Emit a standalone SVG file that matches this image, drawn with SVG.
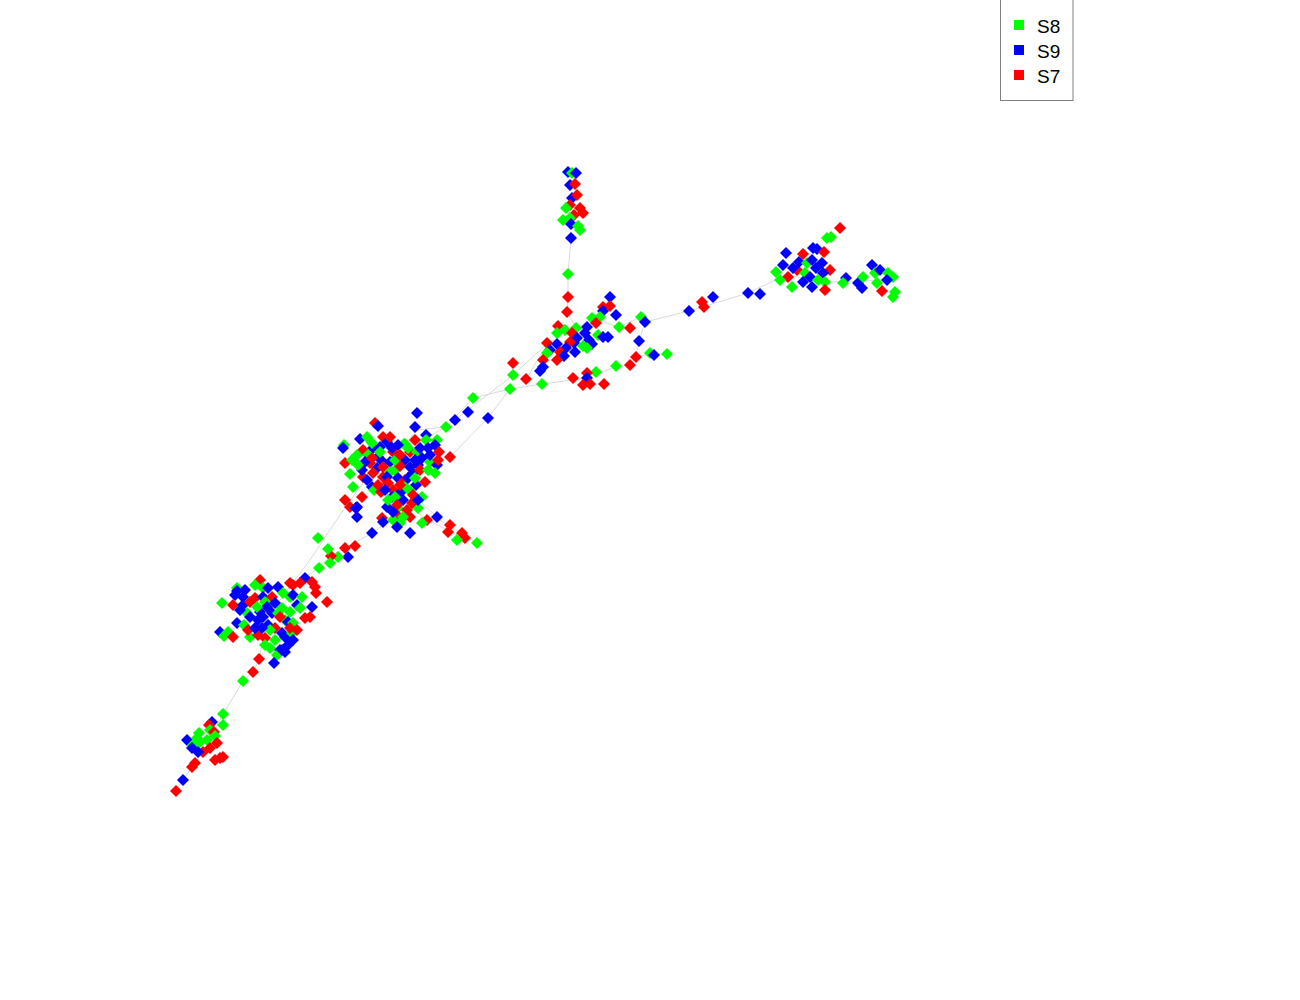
<svg xmlns="http://www.w3.org/2000/svg" xmlns:xlink="http://www.w3.org/1999/xlink" width="1300" height="1000" viewBox="0 0 1300 1000">
<style>
.g{fill:#00ff00}.b{fill:#0000ff}.r{fill:#ff0000}
.e{fill:none;stroke:#d9d9d9;stroke-width:1}
.lt{font-family:"Liberation Sans",Arial,sans-serif;font-size:19px;fill:#000}
</style>
<defs><path id="d" d="M0,-6L6,0L0,6L-6,0Z"/></defs>
<rect width="1300" height="1000" fill="#fff"/>
<g id="edges">
<polyline class="e" points="176,790 183,780 192,767 203,752 210,740 223,714 243,681 253,672 259,659 265,630"/>
<polyline class="e" points="265,620 290,597 305,578 318,568 331,556 345,548 372,533 397,515"/>
<polyline class="e" points="228,632 280,600 310,560 340,515 365,480"/>
<polyline class="e" points="383,470 417,430 446,427 473,398 510,389"/>
<polyline class="e" points="450,457 488,418 510,389"/>
<polyline class="e" points="395,460 455,420 513,375 547,344"/>
<polyline class="e" points="510,389 542,384 587,378 615,367 630,365 636,357 639,341 645,322 689,311 748,293 786,275"/>
<polyline class="e" points="527,378 547,344 575,330 603,311 610,297"/>
<polyline class="e" points="568,297 567,312 576,328"/>
<polyline class="e" points="568,297 568,274 571,238"/>
<polyline class="e" points="786,275 830,282 893,280"/>
<polyline class="e" points="636,357 650,354 667,354"/>
<polyline class="e" points="592,318 619,327 641,317"/>
<polyline class="e" points="405,487 440,520 478,544"/>
<polyline class="e" points="400,500 428,520 463,538"/>
</g>
<g id="nodes">
<g id="n1"><use href="#d" x="568" y="172" class="b"/></g>
<g id="n2"><use href="#d" x="572" y="173" class="g"/></g>
<g id="n3"><use href="#d" x="576" y="173" class="b"/></g>
<g id="n4"><use href="#d" x="570" y="185" class="b"/></g>
<g id="n5"><use href="#d" x="575" y="184" class="r"/></g>
<g id="n6"><use href="#d" x="572" y="198" class="b"/></g>
<g id="n7"><use href="#d" x="577" y="195" class="r"/></g>
<g id="n8"><use href="#d" x="570" y="205" class="r"/></g>
<g id="n9"><use href="#d" x="566" y="208" class="g"/></g>
<g id="n10"><use href="#d" x="580" y="208" class="r"/></g>
<g id="n11"><use href="#d" x="583" y="213" class="r"/></g>
<g id="n12"><use href="#d" x="574" y="215" class="r"/></g>
<g id="n13"><use href="#d" x="570" y="218" class="g"/></g>
<g id="n14"><use href="#d" x="563" y="220" class="g"/></g>
<g id="n15"><use href="#d" x="571" y="224" class="b"/></g>
<g id="n16"><use href="#d" x="578" y="226" class="g"/></g>
<g id="n17"><use href="#d" x="580" y="230" class="g"/></g>
<g id="n18"><use href="#d" x="571" y="238" class="b"/></g>
<g id="n19"><use href="#d" x="568" y="274" class="g"/></g>
<g id="n20"><use href="#d" x="568" y="297" class="r"/></g>
<g id="n21"><use href="#d" x="840" y="228" class="r"/></g>
<g id="n22"><use href="#d" x="827" y="238" class="g"/></g>
<g id="n23"><use href="#d" x="831" y="237" class="g"/></g>
<g id="n24"><use href="#d" x="786" y="253" class="b"/></g>
<g id="n25"><use href="#d" x="803" y="254" class="r"/></g>
<g id="n26"><use href="#d" x="813" y="248" class="b"/></g>
<g id="n27"><use href="#d" x="817" y="249" class="b"/></g>
<g id="n28"><use href="#d" x="824" y="252" class="r"/></g>
<g id="n29"><use href="#d" x="788" y="277" class="r"/></g>
<g id="n30"><use href="#d" x="783" y="265" class="b"/></g>
<g id="n31"><use href="#d" x="776" y="272" class="g"/></g>
<g id="n32"><use href="#d" x="780" y="280" class="g"/></g>
<g id="n33"><use href="#d" x="797" y="270" class="r"/></g>
<g id="n34"><use href="#d" x="799" y="262" class="b"/></g>
<g id="n35"><use href="#d" x="793" y="268" class="b"/></g>
<g id="n36"><use href="#d" x="807" y="263" class="g"/></g>
<g id="n37"><use href="#d" x="812" y="260" class="b"/></g>
<g id="n38"><use href="#d" x="816" y="268" class="b"/></g>
<g id="n39"><use href="#d" x="822" y="263" class="b"/></g>
<g id="n40"><use href="#d" x="830" y="270" class="r"/></g>
<g id="n41"><use href="#d" x="805" y="273" class="g"/></g>
<g id="n42"><use href="#d" x="810" y="277" class="b"/></g>
<g id="n43"><use href="#d" x="803" y="282" class="b"/></g>
<g id="n44"><use href="#d" x="792" y="287" class="g"/></g>
<g id="n45"><use href="#d" x="823" y="273" class="b"/></g>
<g id="n46"><use href="#d" x="818" y="280" class="g"/></g>
<g id="n47"><use href="#d" x="825" y="282" class="g"/></g>
<g id="n48"><use href="#d" x="825" y="290" class="r"/></g>
<g id="n49"><use href="#d" x="812" y="287" class="b"/></g>
<g id="n50"><use href="#d" x="846" y="278" class="b"/></g>
<g id="n51"><use href="#d" x="843" y="283" class="g"/></g>
<g id="n52"><use href="#d" x="858" y="283" class="b"/></g>
<g id="n53"><use href="#d" x="862" y="288" class="b"/></g>
<g id="n54"><use href="#d" x="872" y="265" class="b"/></g>
<g id="n55"><use href="#d" x="863" y="277" class="g"/></g>
<g id="n56"><use href="#d" x="875" y="273" class="g"/></g>
<g id="n57"><use href="#d" x="880" y="270" class="b"/></g>
<g id="n58"><use href="#d" x="888" y="273" class="g"/></g>
<g id="n59"><use href="#d" x="893" y="277" class="g"/></g>
<g id="n60"><use href="#d" x="877" y="283" class="g"/></g>
<g id="n61"><use href="#d" x="887" y="280" class="b"/></g>
<g id="n62"><use href="#d" x="882" y="291" class="r"/></g>
<g id="n63"><use href="#d" x="895" y="292" class="g"/></g>
<g id="n64"><use href="#d" x="893" y="297" class="g"/></g>
<g id="n65"><use href="#d" x="760" y="294" class="b"/></g>
<g id="n66"><use href="#d" x="748" y="293" class="b"/></g>
<g id="n67"><use href="#d" x="713" y="297" class="b"/></g>
<g id="n68"><use href="#d" x="702" y="302" class="r"/></g>
<g id="n69"><use href="#d" x="704" y="307" class="r"/></g>
<g id="n70"><use href="#d" x="689" y="311" class="b"/></g>
<g id="n71"><use href="#d" x="610" y="297" class="b"/></g>
<g id="n72"><use href="#d" x="603" y="307" class="r"/></g>
<g id="n73"><use href="#d" x="610" y="306" class="r"/></g>
<g id="n74"><use href="#d" x="567" y="312" class="r"/></g>
<g id="n75"><use href="#d" x="603" y="311" class="b"/></g>
<g id="n76"><use href="#d" x="616" y="315" class="b"/></g>
<g id="n77"><use href="#d" x="592" y="318" class="g"/></g>
<g id="n78"><use href="#d" x="600" y="317" class="g"/></g>
<g id="n79"><use href="#d" x="596" y="323" class="r"/></g>
<g id="n80"><use href="#d" x="619" y="327" class="g"/></g>
<g id="n81"><use href="#d" x="630" y="328" class="r"/></g>
<g id="n82"><use href="#d" x="641" y="317" class="g"/></g>
<g id="n83"><use href="#d" x="645" y="322" class="b"/></g>
<g id="n84"><use href="#d" x="558" y="326" class="r"/></g>
<g id="n85"><use href="#d" x="565" y="330" class="g"/></g>
<g id="n86"><use href="#d" x="576" y="328" class="g"/></g>
<g id="n87"><use href="#d" x="587" y="327" class="b"/></g>
<g id="n88"><use href="#d" x="585" y="333" class="b"/></g>
<g id="n89"><use href="#d" x="557" y="333" class="g"/></g>
<g id="n90"><use href="#d" x="572" y="333" class="r"/></g>
<g id="n91"><use href="#d" x="577" y="338" class="b"/></g>
<g id="n92"><use href="#d" x="574" y="343" class="b"/></g>
<g id="n93"><use href="#d" x="598" y="335" class="g"/></g>
<g id="n94"><use href="#d" x="589" y="340" class="b"/></g>
<g id="n95"><use href="#d" x="592" y="344" class="b"/></g>
<g id="n96"><use href="#d" x="603" y="337" class="b"/></g>
<g id="n97"><use href="#d" x="608" y="337" class="b"/></g>
<g id="n98"><use href="#d" x="547" y="343" class="r"/></g>
<g id="n99"><use href="#d" x="570" y="342" class="r"/></g>
<g id="n100"><use href="#d" x="557" y="344" class="b"/></g>
<g id="n101"><use href="#d" x="550" y="350" class="b"/></g>
<g id="n102"><use href="#d" x="583" y="346" class="g"/></g>
<g id="n103"><use href="#d" x="587" y="348" class="g"/></g>
<g id="n104"><use href="#d" x="566" y="348" class="b"/></g>
<g id="n105"><use href="#d" x="560" y="352" class="r"/></g>
<g id="n106"><use href="#d" x="575" y="352" class="b"/></g>
<g id="n107"><use href="#d" x="564" y="356" class="b"/></g>
<g id="n108"><use href="#d" x="547" y="353" class="g"/></g>
<g id="n109"><use href="#d" x="543" y="360" class="r"/></g>
<g id="n110"><use href="#d" x="557" y="360" class="r"/></g>
<g id="n111"><use href="#d" x="543" y="367" class="b"/></g>
<g id="n112"><use href="#d" x="540" y="371" class="b"/></g>
<g id="n113"><use href="#d" x="513" y="363" class="r"/></g>
<g id="n114"><use href="#d" x="513" y="375" class="g"/></g>
<g id="n115"><use href="#d" x="526" y="379" class="r"/></g>
<g id="n116"><use href="#d" x="510" y="389" class="g"/></g>
<g id="n117"><use href="#d" x="542" y="384" class="g"/></g>
<g id="n118"><use href="#d" x="639" y="341" class="b"/></g>
<g id="n119"><use href="#d" x="636" y="357" class="r"/></g>
<g id="n120"><use href="#d" x="650" y="353" class="g"/></g>
<g id="n121"><use href="#d" x="654" y="355" class="b"/></g>
<g id="n122"><use href="#d" x="667" y="354" class="g"/></g>
<g id="n123"><use href="#d" x="630" y="365" class="r"/></g>
<g id="n124"><use href="#d" x="616" y="366" class="g"/></g>
<g id="n125"><use href="#d" x="596" y="372" class="g"/></g>
<g id="n126"><use href="#d" x="587" y="373" class="r"/></g>
<g id="n127"><use href="#d" x="573" y="378" class="r"/></g>
<g id="n128"><use href="#d" x="587" y="378" class="b"/></g>
<g id="n129"><use href="#d" x="583" y="385" class="r"/></g>
<g id="n130"><use href="#d" x="590" y="384" class="r"/></g>
<g id="n131"><use href="#d" x="604" y="384" class="r"/></g>
<g id="n132"><use href="#d" x="473" y="398" class="g"/></g>
<g id="n133"><use href="#d" x="468" y="412" class="b"/></g>
<g id="n134"><use href="#d" x="455" y="420" class="b"/></g>
<g id="n135"><use href="#d" x="488" y="418" class="b"/></g>
<g id="n136"><use href="#d" x="417" y="413" class="b"/></g>
<g id="n137"><use href="#d" x="415" y="427" class="b"/></g>
<g id="n138"><use href="#d" x="446" y="427" class="g"/></g>
<g id="n139"><use href="#d" x="375" y="423" class="r"/></g>
<g id="n140"><use href="#d" x="378" y="426" class="b"/></g>
<g id="n141"><use href="#d" x="426" y="435" class="b"/></g>
<g id="n142"><use href="#d" x="426" y="440" class="g"/></g>
<g id="n143"><use href="#d" x="437" y="440" class="g"/></g>
<g id="n144"><use href="#d" x="360" y="439" class="b"/></g>
<g id="n145"><use href="#d" x="367" y="437" class="g"/></g>
<g id="n146"><use href="#d" x="383" y="437" class="r"/></g>
<g id="n147"><use href="#d" x="387" y="442" class="b"/></g>
<g id="n148"><use href="#d" x="405" y="444" class="g"/></g>
<g id="n149"><use href="#d" x="435" y="445" class="b"/></g>
<g id="n150"><use href="#d" x="344" y="445" class="g"/></g>
<g id="n151"><use href="#d" x="343" y="448" class="b"/></g>
<g id="n152"><use href="#d" x="363" y="450" class="r"/></g>
<g id="n153"><use href="#d" x="373" y="448" class="b"/></g>
<g id="n154"><use href="#d" x="380" y="447" class="b"/></g>
<g id="n155"><use href="#d" x="357" y="455" class="g"/></g>
<g id="n156"><use href="#d" x="368" y="455" class="g"/></g>
<g id="n157"><use href="#d" x="393" y="452" class="r"/></g>
<g id="n158"><use href="#d" x="410" y="452" class="r"/></g>
<g id="n159"><use href="#d" x="417" y="452" class="g"/></g>
<g id="n160"><use href="#d" x="439" y="452" class="r"/></g>
<g id="n161"><use href="#d" x="450" y="457" class="r"/></g>
<g id="n162"><use href="#d" x="422" y="458" class="b"/></g>
<g id="n163"><use href="#d" x="404" y="444" class="g"/></g>
<g id="n164"><use href="#d" x="378" y="457" class="b"/></g>
<g id="n165"><use href="#d" x="383" y="462" class="b"/></g>
<g id="n166"><use href="#d" x="390" y="462" class="b"/></g>
<g id="n167"><use href="#d" x="397" y="458" class="b"/></g>
<g id="n168"><use href="#d" x="405" y="460" class="b"/></g>
<g id="n169"><use href="#d" x="430" y="462" class="g"/></g>
<g id="n170"><use href="#d" x="370" y="463" class="r"/></g>
<g id="n171"><use href="#d" x="377" y="468" class="b"/></g>
<g id="n172"><use href="#d" x="390" y="472" class="g"/></g>
<g id="n173"><use href="#d" x="395" y="470" class="g"/></g>
<g id="n174"><use href="#d" x="400" y="466" class="r"/></g>
<g id="n175"><use href="#d" x="410" y="467" class="b"/></g>
<g id="n176"><use href="#d" x="418" y="465" class="b"/></g>
<g id="n177"><use href="#d" x="413" y="473" class="b"/></g>
<g id="n178"><use href="#d" x="350" y="474" class="g"/></g>
<g id="n179"><use href="#d" x="437" y="465" class="b"/></g>
<g id="n180"><use href="#d" x="435" y="473" class="g"/></g>
<g id="n181"><use href="#d" x="363" y="477" class="r"/></g>
<g id="n182"><use href="#d" x="367" y="480" class="b"/></g>
<g id="n183"><use href="#d" x="383" y="477" class="r"/></g>
<g id="n184"><use href="#d" x="387" y="477" class="b"/></g>
<g id="n185"><use href="#d" x="398" y="478" class="b"/></g>
<g id="n186"><use href="#d" x="405" y="480" class="r"/></g>
<g id="n187"><use href="#d" x="425" y="482" class="r"/></g>
<g id="n188"><use href="#d" x="416" y="485" class="b"/></g>
<g id="n189"><use href="#d" x="353" y="487" class="g"/></g>
<g id="n190"><use href="#d" x="372" y="487" class="b"/></g>
<g id="n191"><use href="#d" x="374" y="490" class="g"/></g>
<g id="n192"><use href="#d" x="388" y="483" class="r"/></g>
<g id="n193"><use href="#d" x="393" y="490" class="r"/></g>
<g id="n194"><use href="#d" x="405" y="487" class="g"/></g>
<g id="n195"><use href="#d" x="410" y="491" class="g"/></g>
<g id="n196"><use href="#d" x="400" y="493" class="b"/></g>
<g id="n197"><use href="#d" x="403" y="500" class="b"/></g>
<g id="n198"><use href="#d" x="413" y="495" class="r"/></g>
<g id="n199"><use href="#d" x="422" y="497" class="g"/></g>
<g id="n200"><use href="#d" x="362" y="497" class="r"/></g>
<g id="n201"><use href="#d" x="345" y="500" class="r"/></g>
<g id="n202"><use href="#d" x="350" y="507" class="r"/></g>
<g id="n203"><use href="#d" x="357" y="507" class="b"/></g>
<g id="n204"><use href="#d" x="387" y="507" class="b"/></g>
<g id="n205"><use href="#d" x="398" y="508" class="g"/></g>
<g id="n206"><use href="#d" x="407" y="510" class="r"/></g>
<g id="n207"><use href="#d" x="418" y="508" class="g"/></g>
<g id="n208"><use href="#d" x="410" y="517" class="r"/></g>
<g id="n209"><use href="#d" x="397" y="515" class="r"/></g>
<g id="n210"><use href="#d" x="403" y="517" class="g"/></g>
<g id="n211"><use href="#d" x="382" y="518" class="r"/></g>
<g id="n212"><use href="#d" x="383" y="522" class="b"/></g>
<g id="n213"><use href="#d" x="393" y="520" class="g"/></g>
<g id="n214"><use href="#d" x="400" y="523" class="g"/></g>
<g id="n215"><use href="#d" x="427" y="520" class="r"/></g>
<g id="n216"><use href="#d" x="422" y="523" class="g"/></g>
<g id="n217"><use href="#d" x="437" y="517" class="b"/></g>
<g id="n218"><use href="#d" x="397" y="527" class="b"/></g>
<g id="n219"><use href="#d" x="410" y="533" class="b"/></g>
<g id="n220"><use href="#d" x="372" y="533" class="b"/></g>
<g id="n221"><use href="#d" x="450" y="525" class="r"/></g>
<g id="n222"><use href="#d" x="448" y="532" class="r"/></g>
<g id="n223"><use href="#d" x="462" y="533" class="r"/></g>
<g id="n224"><use href="#d" x="465" y="538" class="r"/></g>
<g id="n225"><use href="#d" x="457" y="540" class="g"/></g>
<g id="n226"><use href="#d" x="477" y="543" class="g"/></g>
<g id="n227"><use href="#d" x="395" y="460" class="g"/></g>
<g id="n228"><use href="#d" x="383" y="467" class="r"/></g>
<g id="n229"><use href="#d" x="373" y="473" class="r"/></g>
<g id="n230"><use href="#d" x="392" y="497" class="b"/></g>
<g id="n231"><use href="#d" x="381" y="492" class="r"/></g>
<g id="n232"><use href="#d" x="357" y="517" class="b"/></g>
<g id="n233"><use href="#d" x="356" y="508" class="b"/></g>
<g id="n234"><use href="#d" x="345" y="548" class="r"/></g>
<g id="n235"><use href="#d" x="355" y="546" class="r"/></g>
<g id="n236"><use href="#d" x="348" y="557" class="b"/></g>
<g id="n237"><use href="#d" x="338" y="557" class="g"/></g>
<g id="n238"><use href="#d" x="331" y="556" class="r"/></g>
<g id="n239"><use href="#d" x="330" y="563" class="g"/></g>
<g id="n240"><use href="#d" x="319" y="568" class="g"/></g>
<g id="n241"><use href="#d" x="318" y="538" class="g"/></g>
<g id="n242"><use href="#d" x="260" y="580" class="r"/></g>
<g id="n243"><use href="#d" x="305" y="578" class="b"/></g>
<g id="n244"><use href="#d" x="300" y="583" class="r"/></g>
<g id="n245"><use href="#d" x="293" y="585" class="r"/></g>
<g id="n246"><use href="#d" x="290" y="583" class="r"/></g>
<g id="n247"><use href="#d" x="312" y="582" class="r"/></g>
<g id="n248"><use href="#d" x="315" y="587" class="r"/></g>
<g id="n249"><use href="#d" x="316" y="593" class="r"/></g>
<g id="n250"><use href="#d" x="327" y="602" class="r"/></g>
<g id="n251"><use href="#d" x="222" y="603" class="g"/></g>
<g id="n252"><use href="#d" x="237" y="588" class="g"/></g>
<g id="n253"><use href="#d" x="237" y="591" class="b"/></g>
<g id="n254"><use href="#d" x="255" y="585" class="g"/></g>
<g id="n255"><use href="#d" x="263" y="588" class="g"/></g>
<g id="n256"><use href="#d" x="268" y="588" class="b"/></g>
<g id="n257"><use href="#d" x="278" y="587" class="b"/></g>
<g id="n258"><use href="#d" x="235" y="595" class="b"/></g>
<g id="n259"><use href="#d" x="243" y="597" class="b"/></g>
<g id="n260"><use href="#d" x="233" y="605" class="r"/></g>
<g id="n261"><use href="#d" x="243" y="605" class="b"/></g>
<g id="n262"><use href="#d" x="255" y="598" class="r"/></g>
<g id="n263"><use href="#d" x="263" y="597" class="b"/></g>
<g id="n264"><use href="#d" x="272" y="597" class="r"/></g>
<g id="n265"><use href="#d" x="283" y="593" class="g"/></g>
<g id="n266"><use href="#d" x="290" y="597" class="g"/></g>
<g id="n267"><use href="#d" x="293" y="595" class="b"/></g>
<g id="n268"><use href="#d" x="302" y="597" class="g"/></g>
<g id="n269"><use href="#d" x="265" y="602" class="g"/></g>
<g id="n270"><use href="#d" x="267" y="607" class="b"/></g>
<g id="n271"><use href="#d" x="260" y="612" class="b"/></g>
<g id="n272"><use href="#d" x="247" y="613" class="g"/></g>
<g id="n273"><use href="#d" x="250" y="617" class="b"/></g>
<g id="n274"><use href="#d" x="282" y="608" class="g"/></g>
<g id="n275"><use href="#d" x="290" y="612" class="g"/></g>
<g id="n276"><use href="#d" x="297" y="605" class="b"/></g>
<g id="n277"><use href="#d" x="312" y="607" class="b"/></g>
<g id="n278"><use href="#d" x="310" y="617" class="r"/></g>
<g id="n279"><use href="#d" x="258" y="620" class="b"/></g>
<g id="n280"><use href="#d" x="268" y="625" class="b"/></g>
<g id="n281"><use href="#d" x="263" y="617" class="b"/></g>
<g id="n282"><use href="#d" x="272" y="613" class="b"/></g>
<g id="n283"><use href="#d" x="278" y="613" class="g"/></g>
<g id="n284"><use href="#d" x="285" y="620" class="g"/></g>
<g id="n285"><use href="#d" x="288" y="622" class="b"/></g>
<g id="n286"><use href="#d" x="293" y="623" class="g"/></g>
<g id="n287"><use href="#d" x="305" y="618" class="r"/></g>
<g id="n288"><use href="#d" x="237" y="623" class="b"/></g>
<g id="n289"><use href="#d" x="220" y="632" class="b"/></g>
<g id="n290"><use href="#d" x="228" y="632" class="g"/></g>
<g id="n291"><use href="#d" x="224" y="636" class="g"/></g>
<g id="n292"><use href="#d" x="233" y="637" class="r"/></g>
<g id="n293"><use href="#d" x="250" y="637" class="g"/></g>
<g id="n294"><use href="#d" x="258" y="635" class="r"/></g>
<g id="n295"><use href="#d" x="265" y="638" class="r"/></g>
<g id="n296"><use href="#d" x="275" y="628" class="r"/></g>
<g id="n297"><use href="#d" x="282" y="633" class="b"/></g>
<g id="n298"><use href="#d" x="285" y="637" class="b"/></g>
<g id="n299"><use href="#d" x="292" y="633" class="g"/></g>
<g id="n300"><use href="#d" x="293" y="640" class="b"/></g>
<g id="n301"><use href="#d" x="265" y="645" class="g"/></g>
<g id="n302"><use href="#d" x="270" y="648" class="g"/></g>
<g id="n303"><use href="#d" x="280" y="650" class="b"/></g>
<g id="n304"><use href="#d" x="285" y="652" class="b"/></g>
<g id="n305"><use href="#d" x="277" y="655" class="g"/></g>
<g id="n306"><use href="#d" x="282" y="650" class="b"/></g>
<g id="n307"><use href="#d" x="259" y="659" class="r"/></g>
<g id="n308"><use href="#d" x="274" y="663" class="b"/></g>
<g id="n309"><use href="#d" x="253" y="672" class="r"/></g>
<g id="n310"><use href="#d" x="243" y="681" class="g"/></g>
<g id="n311"><use href="#d" x="223" y="714" class="g"/></g>
<g id="n312"><use href="#d" x="212" y="722" class="b"/></g>
<g id="n313"><use href="#d" x="209" y="725" class="r"/></g>
<g id="n314"><use href="#d" x="223" y="725" class="g"/></g>
<g id="n315"><use href="#d" x="210" y="730" class="g"/></g>
<g id="n316"><use href="#d" x="214" y="732" class="r"/></g>
<g id="n317"><use href="#d" x="199" y="733" class="g"/></g>
<g id="n318"><use href="#d" x="187" y="740" class="b"/></g>
<g id="n319"><use href="#d" x="197" y="738" class="g"/></g>
<g id="n320"><use href="#d" x="215" y="736" class="g"/></g>
<g id="n321"><use href="#d" x="207" y="740" class="g"/></g>
<g id="n322"><use href="#d" x="193" y="745" class="g"/></g>
<g id="n323"><use href="#d" x="192" y="748" class="b"/></g>
<g id="n324"><use href="#d" x="200" y="742" class="g"/></g>
<g id="n325"><use href="#d" x="217" y="743" class="r"/></g>
<g id="n326"><use href="#d" x="210" y="748" class="r"/></g>
<g id="n327"><use href="#d" x="203" y="752" class="r"/></g>
<g id="n328"><use href="#d" x="198" y="752" class="b"/></g>
<g id="n329"><use href="#d" x="220" y="758" class="r"/></g>
<g id="n330"><use href="#d" x="223" y="757" class="r"/></g>
<g id="n331"><use href="#d" x="215" y="760" class="r"/></g>
<g id="n332"><use href="#d" x="195" y="763" class="r"/></g>
<g id="n333"><use href="#d" x="192" y="767" class="r"/></g>
<g id="n334"><use href="#d" x="183" y="780" class="b"/></g>
<g id="n335"><use href="#d" x="176" y="791" class="r"/></g>
<g id="n336"><use href="#d" x="328" y="549" class="g"/></g>
<g id="n337"><use href="#d" x="356" y="508" class="b"/></g>
<g id="n338"><use href="#d" x="398" y="445" class="b"/></g>
<g id="n339"><use href="#d" x="415" y="440" class="r"/></g>
<g id="n340"><use href="#d" x="420" y="448" class="b"/></g>
<g id="n341"><use href="#d" x="365" y="462" class="b"/></g>
<g id="n342"><use href="#d" x="372" y="458" class="r"/></g>
<g id="n343"><use href="#d" x="380" y="452" class="g"/></g>
<g id="n344"><use href="#d" x="392" y="448" class="b"/></g>
<g id="n345"><use href="#d" x="400" y="455" class="r"/></g>
<g id="n346"><use href="#d" x="408" y="448" class="g"/></g>
<g id="n347"><use href="#d" x="415" y="460" class="b"/></g>
<g id="n348"><use href="#d" x="420" y="470" class="r"/></g>
<g id="n349"><use href="#d" x="428" y="470" class="g"/></g>
<g id="n350"><use href="#d" x="430" y="455" class="b"/></g>
<g id="n351"><use href="#d" x="438" y="460" class="r"/></g>
<g id="n352"><use href="#d" x="362" y="470" class="b"/></g>
<g id="n353"><use href="#d" x="358" y="465" class="g"/></g>
<g id="n354"><use href="#d" x="378" y="485" class="r"/></g>
<g id="n355"><use href="#d" x="385" y="490" class="b"/></g>
<g id="n356"><use href="#d" x="395" y="497" class="g"/></g>
<g id="n357"><use href="#d" x="400" y="485" class="r"/></g>
<g id="n358"><use href="#d" x="408" y="478" class="b"/></g>
<g id="n359"><use href="#d" x="415" y="478" class="g"/></g>
<g id="n360"><use href="#d" x="397" y="505" class="r"/></g>
<g id="n361"><use href="#d" x="393" y="512" class="b"/></g>
<g id="n362"><use href="#d" x="388" y="500" class="g"/></g>
<g id="n363"><use href="#d" x="412" y="503" class="r"/></g>
<g id="n364"><use href="#d" x="418" y="500" class="b"/></g>
<g id="n365"><use href="#d" x="372" y="443" class="g"/></g>
<g id="n366"><use href="#d" x="390" y="437" class="r"/></g>
<g id="n367"><use href="#d" x="428" y="448" class="b"/></g>
<g id="n368"><use href="#d" x="345" y="463" class="r"/></g>
<g id="n369"><use href="#d" x="352" y="460" class="g"/></g>
<g id="n370"><use href="#d" x="245" y="590" class="b"/></g>
<g id="n371"><use href="#d" x="250" y="602" class="r"/></g>
<g id="n372"><use href="#d" x="257" y="607" class="g"/></g>
<g id="n373"><use href="#d" x="275" y="603" class="b"/></g>
<g id="n374"><use href="#d" x="280" y="617" class="r"/></g>
<g id="n375"><use href="#d" x="270" y="630" class="g"/></g>
<g id="n376"><use href="#d" x="262" y="628" class="b"/></g>
<g id="n377"><use href="#d" x="290" y="628" class="r"/></g>
<g id="n378"><use href="#d" x="300" y="608" class="g"/></g>
<g id="n379"><use href="#d" x="240" y="610" class="b"/></g>
<g id="n380"><use href="#d" x="244" y="625" class="g"/></g>
<g id="n381"><use href="#d" x="248" y="630" class="r"/></g>
<g id="n382"><use href="#d" x="255" y="628" class="b"/></g>
<g id="n383"><use href="#d" x="275" y="640" class="g"/></g>
<g id="n384"><use href="#d" x="288" y="645" class="b"/></g>
<g id="n385"><use href="#d" x="297" y="630" class="r"/></g>
</g>
<g id="legend">
<rect x="1000.5" y="-1" width="72.5" height="101.5" fill="#fff" stroke="#808080" stroke-width="1"/>
<rect x="1014" y="20" width="10" height="10" class="g"/>
<rect x="1014" y="45" width="10" height="10" class="b"/>
<rect x="1014" y="70" width="10" height="10" class="r"/>
<text x="1037" y="33" class="lt">S8</text>
<text x="1037" y="58" class="lt">S9</text>
<text x="1037" y="83" class="lt">S7</text>
</g>
</svg>
